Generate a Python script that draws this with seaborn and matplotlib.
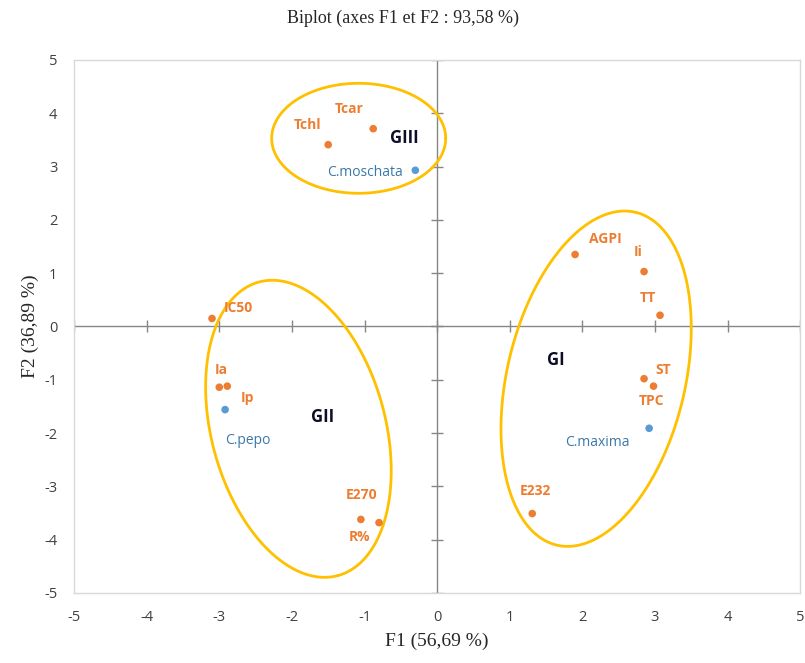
import numpy as np
import pandas as pd
import matplotlib
matplotlib.use("Agg")
import matplotlib.pyplot as plt
import seaborn as sns

# variables (orange) and individuals (blue) on F1/F2
var_names = ['Tcar', 'Tchl', 'AGPI', 'Ii', 'TT', 'IC50', 'Ia', 'Ip', 'ST', 'TPC', 'E270', 'R%', 'E232']
var_f1 = [-0.88, -1.50, 1.90, 2.85, 3.07, -3.10, -3.00, -2.89, 2.85, 2.98, -1.05, -0.80, 1.31]
var_f2 = [3.71, 3.41, 1.35, 1.03, 0.21, 0.15, -1.14, -1.12, -0.98, -1.12, -3.62, -3.68, -3.51]

ind_names = ['C.moschata', 'C.pepo', 'C.maxima']
ind_f1 = [-0.30, -2.92, 2.92]
ind_f2 = [2.93, -1.56, -1.91]

# label offsets in pixels (dx, dy)
var_offsets = [(-24, 20), (-21, 20), (30, 15), (-6, 20), (-12, 17), (26, 10), (2, 17),
               (20, -12), (19, 9), (-2, -15), (1, 24), (-20, -14), (3, 23)]
ind_offsets = [(-50, -2), (23, -31), (-52, -14)]

# groups: name, label position, ellipse centre, semi-axes (px), tilt (deg)
groups = ['GI', 'GII', 'GIII']
group_label_xy = [(1.63, -0.62), (-1.58, -1.70), (-0.45, 3.53)]
ell_center = [(2.19, -0.98), (-1.91, -1.92), (-1.08, 3.53)]
ell_axes_px = [(171, 89), (152, 87), (87, 55)]
ell_tilt = [76.7, -75.0, 0.0]

df = pd.DataFrame({
    'F1': var_f1 + ind_f1,
    'F2': var_f2 + ind_f2,
    'type': ['var'] * len(var_f1) + ['ind'] * len(ind_f1),
})

sns.set_style('white')
plt.rcParams['axes.unicode_minus'] = False
fig = plt.figure(figsize=(8.05, 6.63), dpi=100)
ax = fig.add_axes([0.092, 0.1056, 0.902, 0.804])

orange = '#ED7D31'
blue = '#5B9BD5'
blue_txt = '#3A78A8'
gray = '#868686'

ax.set_xlim(-5, 5)
ax.set_ylim(-5, 5)
ax.set_xticks(range(-5, 6))
ax.set_yticks(range(-5, 6))

# zero axes with crossing ticks
ax.axhline(0, color=gray, lw=1, zorder=1)
ax.axvline(0, color=gray, lw=1, zorder=1)
ticks = np.arange(-5, 6)
ax.plot(ticks, np.zeros_like(ticks), ls='', marker='|', ms=8, color=gray, mew=1, zorder=1)
ax.plot(np.zeros_like(ticks), ticks, ls='', marker='_', ms=8, color=gray, mew=1, zorder=1)

sns.scatterplot(data=df, x='F1', y='F2', hue='type', palette={'var': orange, 'ind': blue},
                s=30, edgecolor='none', legend=False, ax=ax, zorder=3)

lab_font = dict(fontsize=10, fontweight='bold', family='Open Sans', ha='center', va='center')
for n, x, y, off in zip(var_names, var_f1, var_f2, var_offsets):
    ax.annotate(n, (x, y), xytext=off, textcoords='offset pixels', color=orange, **lab_font)
for n, x, y, off in zip(ind_names, ind_f1, ind_f2, ind_offsets):
    ax.annotate(n, (x, y), xytext=off, textcoords='offset pixels', color=blue_txt,
                fontsize=10, family='Open Sans', ha='center', va='center')

# ellipses drawn in pixel space, converted back to data units
sx = 72.6
sy = 53.3
t = np.linspace(0, 2 * np.pi, 300)
for (cx, cy), (a, b), th in zip(ell_center, ell_axes_px, ell_tilt):
    r = np.deg2rad(th)
    px = a * np.cos(t) * np.cos(r) - b * np.sin(t) * np.sin(r)
    py = a * np.cos(t) * np.sin(r) + b * np.sin(t) * np.cos(r)
    ax.plot(cx + px / sx, cy + py / sy, color='#FFC000', lw=2, zorder=2)

for g, (x, y) in zip(groups, group_label_xy):
    ax.text(x, y, g, fontsize=12, fontweight='bold', color='#0D0D26', family='Open Sans',
            ha='center', va='center')

for sp in ax.spines.values():
    sp.set_color('#D9D9D9')
    sp.set_linewidth(1)
ax.tick_params(length=0, labelsize=10.5, labelcolor='#404040', pad=12)
for lbl in ax.get_xticklabels() + ax.get_yticklabels():
    lbl.set_family('Open Sans')

ax.set_xlabel('F1 (56,69 %)', family='Liberation Serif', fontsize=14, labelpad=6)
ax.set_ylabel('F2 (36,89 %)', family='Liberation Serif', fontsize=14, labelpad=4)
fig.suptitle('Biplot (axes F1 et F2 : 93,58 %)', family='Liberation Serif', fontsize=13, y=0.985)

fig.savefig('out.png', dpi=100)
